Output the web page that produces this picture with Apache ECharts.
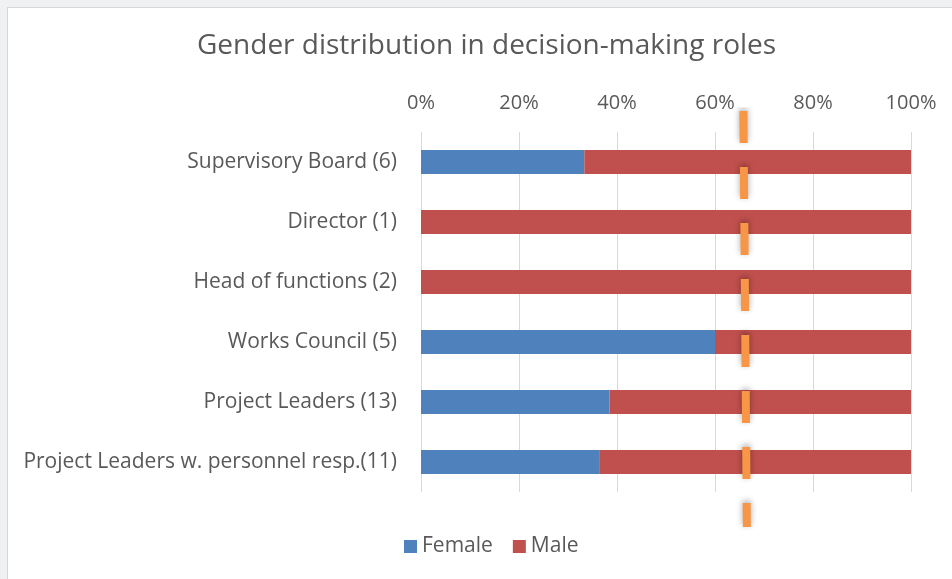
<!DOCTYPE html>
<html>
<head>
<meta charset="utf-8">
<script src="https://cdn.jsdelivr.net/npm/echarts@6/dist/echarts.min.js"></script>
<style>
  html, body { margin: 0; padding: 0; background: #f0f1f3; }
  #frame { position: absolute; left: 7px; top: 7px; width: 945px; height: 572px; background: #ffffff; border-left: 1px solid #d6d7d9; border-top: 1px solid #d6d7d9; box-sizing: border-box; }
  #main { position: absolute; left: 0; top: 0; width: 952px; height: 579px; }
</style>
</head>
<body>
<div id="frame"></div>
<div id="main"></div>
<script>
const categories = [
  'Supervisory Board (6)',
  'Director (1)',
  'Head of functions (2)',
  'Works Council (5)',
  'Project Leaders (13)',
  'Project Leaders w. personnel resp.(11)'
];
const femaleShare = [2/6, 0, 0, 3/5, 5/13, 4/11];
const maleShare = [4/6, 1, 1, 2/5, 8/13, 7/11];
const tickLabels = ['0%', '20%', '40%', '60%', '80%', '100%'];
const targetLine = [[0.658, 1], [0.665, 0]];

const FONT = '"Open Sans", sans-serif';
const chart = echarts.init(document.getElementById('main'), null, { renderer: 'canvas' });
chart.setOption({
  backgroundColor: 'transparent',
  animation: false,
  textStyle: { fontFamily: FONT },
  graphic: [{
    type: 'text',
    left: 197,
    top: 32,
    style: { text: 'Gender distribution in decision-making roles', fill: '#595959', font: '28px ' + FONT }
  }],
  legend: {
    bottom: 17,
    left: 399,
    itemWidth: 13,
    itemHeight: 13,
    itemGap: 20,
    itemTextGap: 5,
    icon: 'rect',
    textStyle: { fontSize: 21, color: '#595959', fontFamily: FONT },
    data: ['Female', 'Male']
  },
  grid: [
    { left: 421, right: 41, top: 132, height: 360, containLabel: false },
    { left: 421, right: 41, top: 111, bottom: 52, containLabel: false }
  ],
  xAxis: [{
    type: 'value', gridIndex: 0, position: 'top', min: 0, max: 1, interval: 0.2,
    axisLine: { show: false }, axisTick: { show: false },
    axisLabel: { formatter: v => tickLabels[Math.round(v * 5)], fontSize: 20, color: '#595959', margin: 19, fontFamily: FONT },
    splitLine: { lineStyle: { color: '#d9d9d9', width: 1 } }
  }, {
    type: 'value', gridIndex: 1, min: 0, max: 1, show: false
  }],
  yAxis: [{
    type: 'category', gridIndex: 0, inverse: true, data: categories,
    axisLine: { show: false }, axisTick: { show: false },
    axisLabel: { fontSize: 21, color: '#595959', margin: 24, fontFamily: FONT, padding: [4, 0, 0, 0] }
  }, {
    type: 'value', gridIndex: 1, min: 0, max: 1, show: false
  }],
  series: [{
    name: 'Female', type: 'bar', stack: 'total', barWidth: 24,
    xAxisIndex: 0, yAxisIndex: 0,
    itemStyle: { color: '#4f81bd' },
    data: femaleShare
  }, {
    name: 'Male', type: 'bar', stack: 'total', barWidth: 24,
    xAxisIndex: 0, yAxisIndex: 0,
    itemStyle: { color: '#c0504d' },
    data: maleShare
  }, {
    name: 'Target', type: 'line', xAxisIndex: 1, yAxisIndex: 1,
    symbol: 'none', silent: true,
    lineStyle: { color: '#f79646', width: 8, type: [32, 24], cap: 'butt',
      shadowColor: 'rgba(0,0,0,0.35)', shadowBlur: 6, shadowOffsetY: -2 },
    data: targetLine
  }]
});
</script>
</body>
</html>
